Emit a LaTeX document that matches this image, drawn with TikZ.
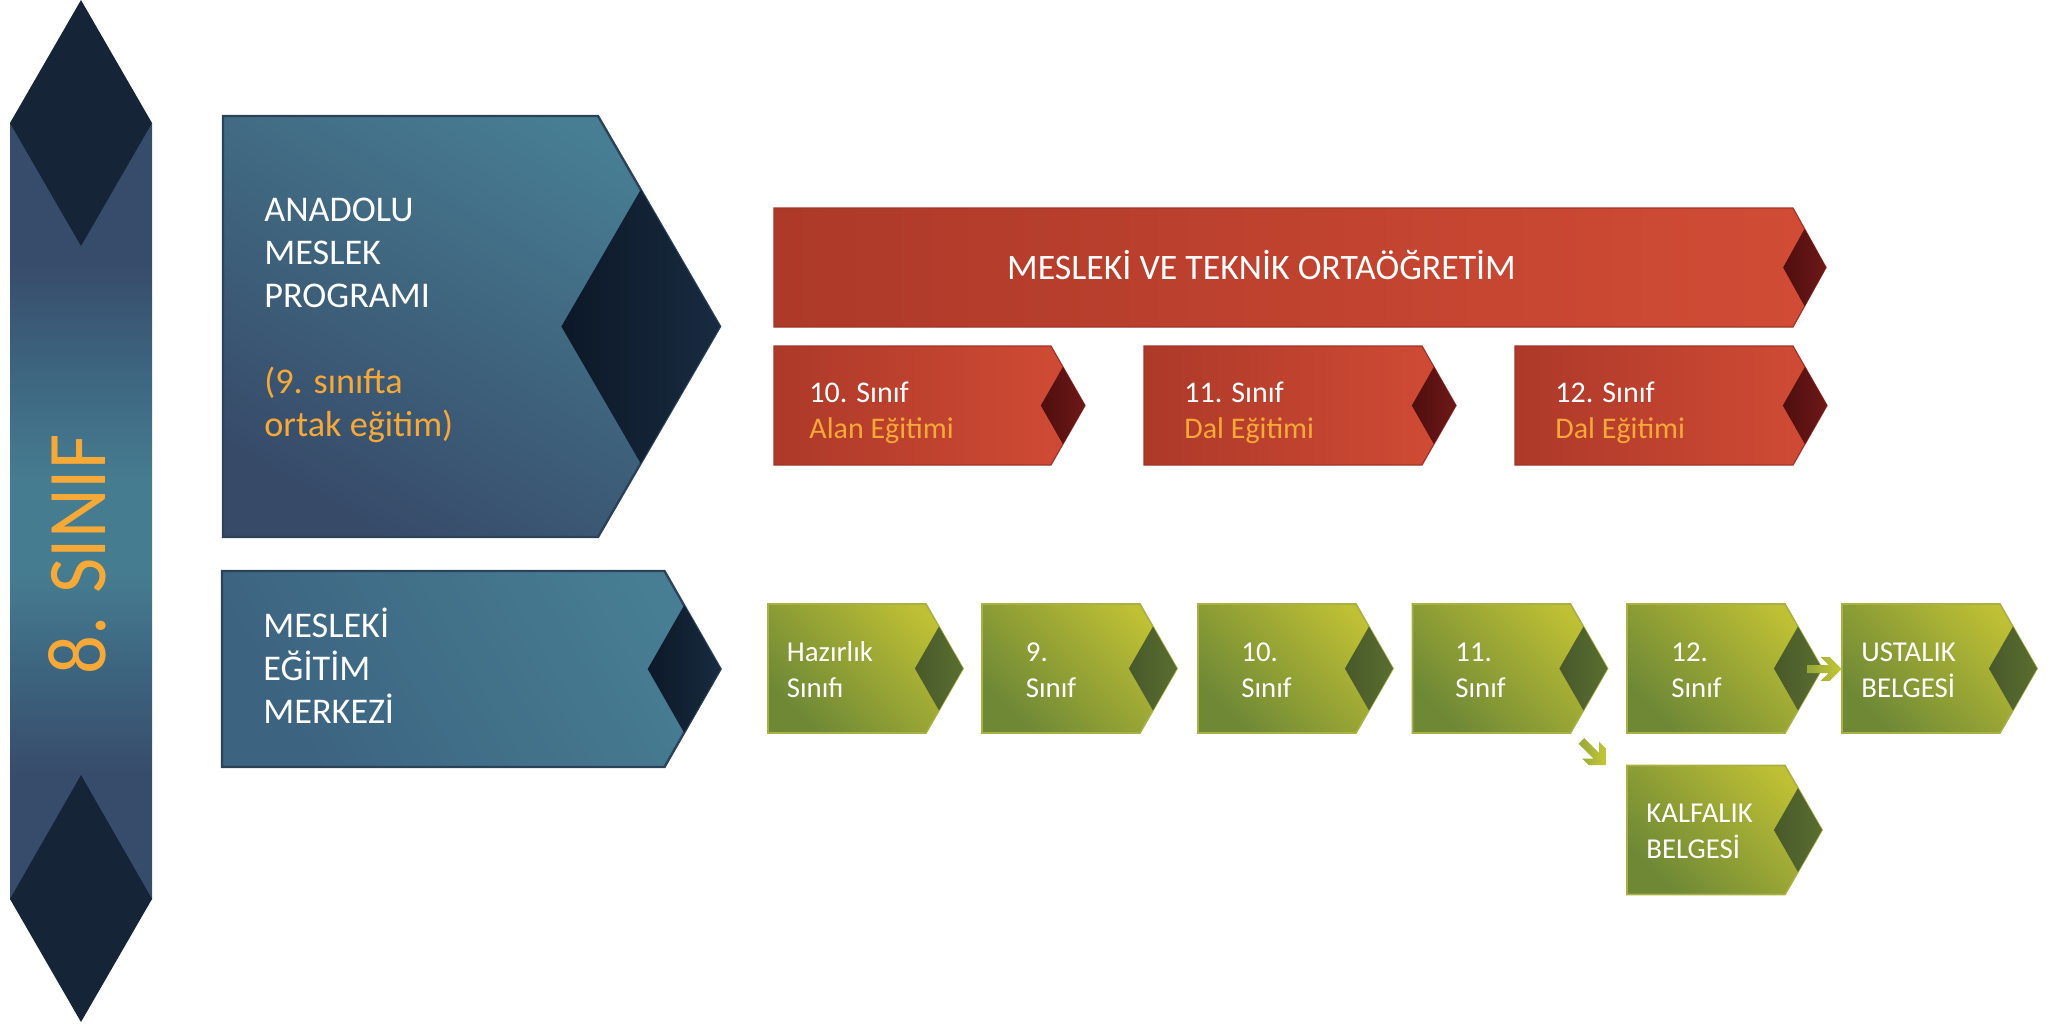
\documentclass[tikz,border=0pt]{standalone}
\usepackage{fontspec}
\setmainfont{Carlito}
\newfontfamily\sinifFont[FakeStretch=0.92]{Carlito}
\definecolor{navyD}{HTML}{152537}
\definecolor{barDark}{HTML}{374C6A}
\definecolor{barMid}{HTML}{3D6580}
\definecolor{barTeal}{HTML}{467C90}
\definecolor{blueLight}{HTML}{477E93}
\definecolor{blueDark}{HTML}{374B69}
\definecolor{blueMid}{HTML}{3C6380}
\definecolor{blueEdge}{HTML}{2C4259}
\definecolor{notchBa}{HTML}{0C1827}
\definecolor{notchBb}{HTML}{182B40}
\definecolor{redDark}{HTML}{AD3929}
\definecolor{redLight}{HTML}{D24C35}
\definecolor{redEdge}{HTML}{A0342A}
\definecolor{notchRa}{HTML}{4F0E0E}
\definecolor{notchRb}{HTML}{6E1818}
\definecolor{grnDark}{HTML}{6E8836}
\definecolor{grnLight}{HTML}{BFC034}
\definecolor{grnEdge}{HTML}{A9B044}
\definecolor{notchGa}{HTML}{48592A}
\definecolor{notchGb}{HTML}{5A6E30}
\definecolor{arrA}{HTML}{97A83A}
\definecolor{arrB}{HTML}{C3C736}
\definecolor{orangeTxt}{HTML}{F7A937}
\pgfdeclareverticalshading{barshade}{100bp}{color(0bp)=(barDark); color(33bp)=(barDark); color(40bp)=(barMid); color(46bp)=(barTeal); color(52bp)=(barTeal); color(59bp)=(barMid); color(66bp)=(barDark); color(100bp)=(barDark)}
\newcommand\mkchev[7]{%
 \path[#6] (#1,#2) -- (#3,#2) -- ({#3+#5},{(#2+#4)/2}) -- (#3,#4) -- (#1,#4) -- cycle;
 \path[#7] ({#3-0.3*#5},{(#2+#4)/2}) -- ({#3+0.35*#5},{#2+0.175*(#4-#2)}) -- ({#3+#5},{(#2+#4)/2}) -- ({#3+0.35*#5},{#4-0.175*(#4-#2)}) -- cycle;}
\newcommand\mkarrow[3]{%
 \begin{scope}[shift={(#1,#2)},rotate=#3]
 \path[arrowfill] (-17,-4) -- (4,-4) -- (-4,-12) -- (5,-12) -- (17,0) -- (5,12) -- (-4,12) -- (4,4) -- (-17,4) -- cycle;
 \end{scope}}
\tikzset{
 boxA/.style={draw=blueEdge, line width=1.2pt, top color=blueLight, bottom color=blueDark, shading angle=-30},
 boxB/.style={draw=blueEdge, line width=1.2pt, top color=blueLight, bottom color=blueMid, shading angle=-60},
 notchB/.style={left color=notchBa, right color=notchBb},
 redbox/.style={draw=redEdge, line width=0.6pt, left color=redDark, right color=redLight},
 notchR/.style={left color=notchRa, right color=notchRb},
 grnbox/.style={draw=grnEdge, line width=0.8pt, top color=grnLight, bottom color=grnDark, shading angle=-45},
 notchG/.style={left color=notchGa, right color=notchGb},
 arrowfill/.style={left color=arrA, right color=arrB},
 btxt/.style={inner sep=0, align=left, text=white, font=\fontsize{18.1pt}{21.5pt}\selectfont},
 otxt/.style={btxt, text=orangeTxt},
 rtxt/.style={inner sep=0, align=left, text=white, font=\fontsize{15pt}{18pt}\selectfont},
 gtxt/.style={inner sep=0, align=left, text=white, font=\fontsize{14.4pt}{18pt}\selectfont},
}
\begin{document}
\begin{tikzpicture}[x=0.5pt,y=-0.5pt]
\useasboundingbox (0,0) rectangle (2060,1024);
% left bar
\path[shading=barshade] (10,123) rectangle (152,899);
\fill[navyD] (81,0) -- (152,123) -- (81,246) -- (10,123) -- cycle;
\fill[navyD] (81,775) -- (152,899) -- (81,1022) -- (10,899) -- cycle;
\node[rotate=90, inner sep=0, text=orangeTxt, font=\sinifFont\fontsize{41.7pt}{50pt}\selectfont] (sinif) at (77.5,554.5) {8. SINIF};
% blue boxes
\mkchev{223}{116}{598}{537}{122}{boxA}{notchB}
\mkchev{222}{571}{664.5}{767}{56}{boxB}{notchB}
\node[btxt, anchor=base west] (anadolu) at (264,307) {ANADOLU\\MESLEK\\PROGRAMI};
\node[otxt, anchor=base west] (ortak) at (264,436) {(9. sınıfta\\ortak eğitim)};
\node[btxt, anchor=base west] (mem) at (263,723) {MESLEKİ\\EĞİTİM\\MERKEZİ};
% red
\mkchev{774}{208}{1793}{327}{33}{redbox}{notchR}
\node[inner sep=0, text=white, font=\fontsize{17.9pt}{21pt}\selectfont, anchor=base] (mto) at (1261.5,279) {MESLEKİ VE TEKNİK ORTAÖĞRETİM};
\mkchev{774}{346}{1051}{465}{34}{redbox}{notchR}
\mkchev{1144}{346}{1422}{465}{34}{redbox}{notchR}
\mkchev{1515}{346}{1793}{465}{34}{redbox}{notchR}
\node[rtxt, anchor=base west] (r10) at (809,438) {10. Sınıf\\\textcolor{orangeTxt}{Alan Eğitimi}};
\node[rtxt, anchor=base west] (r11) at (1184,438) {11. Sınıf\\\textcolor{orangeTxt}{Dal Eğitimi}};
\node[rtxt, anchor=base west] (r12) at (1555,438) {12. Sınıf\\\textcolor{orangeTxt}{Dal Eğitimi}};
% green
\mkchev{768}{604}{926}{733}{37}{grnbox}{notchG}
\mkchev{982}{604}{1140}{733}{37}{grnbox}{notchG}
\mkchev{1198}{604}{1356}{733}{37}{grnbox}{notchG}
\mkchev{1412.5}{604}{1570.5}{733}{37}{grnbox}{notchG}
\mkchev{1627}{604}{1785}{733}{37}{grnbox}{notchG}
\mkchev{1842}{604}{2000}{733}{37}{grnbox}{notchG}
\mkchev{1627}{765.5}{1785}{894.5}{37}{grnbox}{notchG}
\node[gtxt, anchor=base west] (g0) at (786.5,697) {Hazırlık\\Sınıfı};
\node[gtxt, anchor=base west] (g9) at (1025.5,697) {9.\\Sınıf};
\node[gtxt, anchor=base west] (g10) at (1241,697) {10.\\Sınıf};
\node[gtxt, anchor=base west] (g11) at (1455,697) {11.\\Sınıf};
\node[gtxt, anchor=base west] (g12) at (1671,697) {12.\\Sınıf};
\node[gtxt, anchor=base west] (ust) at (1861,697) {USTALIK\\BELGESİ};
\node[gtxt, anchor=base west] (kal) at (1646,858) {KALFALIK\\BELGESİ};
% arrows
\mkarrow{1824.5}{669}{0}
\mkarrow{1593.5}{753}{-45}
\end{tikzpicture}
\end{document}
